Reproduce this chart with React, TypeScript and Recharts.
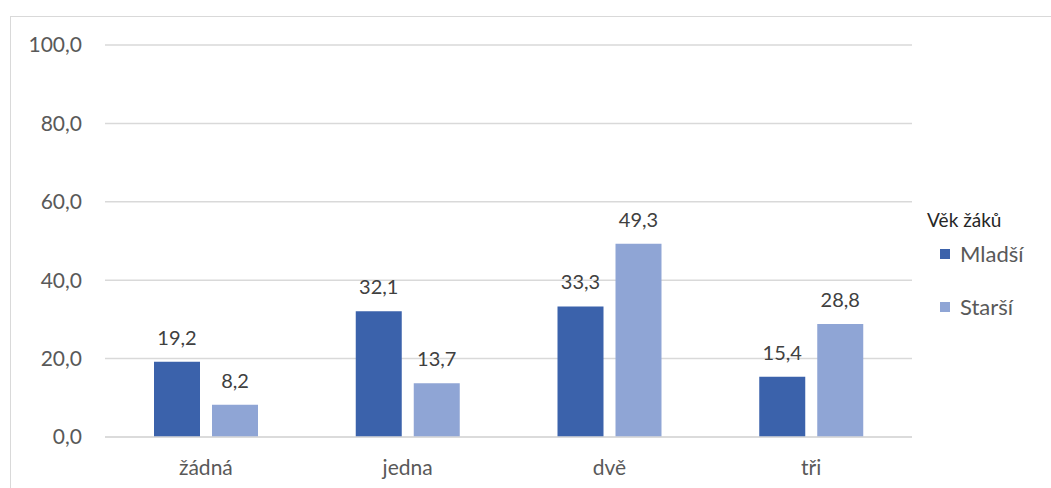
import React from "react";
import {
  BarChart,
  Bar,
  XAxis,
  YAxis,
  CartesianGrid,
  LabelList,
  Legend,
} from "recharts";

const categories = ["žádná", "jedna", "dvě", "tři"];
const mladsi = [19.2, 32.1, 33.3, 15.4];
const starsi = [8.2, 13.7, 49.3, 28.8];
const yTicks = [0, 20, 40, 60, 80, 100];
const legendTitle = "Věk žáků";

const data = categories.map((c, i) => ({
  cat: c,
  mladsi: mladsi[i],
  starsi: starsi[i],
}));

const fmt = (v: number) => v.toFixed(1).replace(".", ",");
const FONT = "Lato, 'Open Sans', sans-serif";

function LegendBox({ payload }: any) {
  return (
    <div style={{ position: "relative", fontFamily: FONT, lineHeight: "20px" }}>
      <div style={{ position: "absolute", left: 0, top: 1, fontSize: 19, color: "#262626", whiteSpace: "nowrap" }}>
        {legendTitle}
      </div>
      {(payload || []).map((p: any, i: number) => (
        <div key={p.value} style={{ position: "absolute", left: 0, top: 35 + i * 53, height: 20, width: 120 }}>
          <span
            style={{
              position: "absolute",
              left: 13,
              top: 5,
              width: 10,
              height: 10,
              background: p.color,
            }}
          />
          <span style={{ position: "absolute", left: 33, top: 0, fontSize: 22, color: "#595959", whiteSpace: "nowrap" }}>
            {p.value}
          </span>
        </div>
      ))}
    </div>
  );
}

export default function App() {
  return (
    <div style={{ position: "absolute", left: 0, top: 0, width: 1051, height: 488, overflow: "hidden", background: "#fff" }}>
      <div
        style={{
          position: "absolute",
          left: 10,
          top: 16,
          width: 1100,
          height: 520,
          border: "1px solid #D9D9D9",
        }}
      />
      <BarChart
        width={1051}
        height={488}
        data={data}
        margin={{ top: 45, right: 139, left: 0, bottom: 11 }}
        barGap={12}
        barSize={46}
        style={{ fontFamily: FONT }}
      >
        <CartesianGrid vertical={false} stroke="#D9D9D9" strokeWidth={1.5} />
        <XAxis
          dataKey="cat"
          height={40}
          axisLine={{ stroke: "#D9D9D9", strokeWidth: 1.5 }}
          tickLine={false}
          tickSize={0}
          tickMargin={23}
          tick={{ fill: "#595959", fontSize: 21 }}
        />
        <YAxis
          width={105}
          domain={[0, 100]}
          ticks={yTicks}
          tickFormatter={fmt}
          axisLine={false}
          tickLine={false}
          tickSize={0}
          tickMargin={23}
          tick={{ fill: "#595959", fontSize: 21 }}
        />
        <Legend
          layout="vertical"
          align="center"
          verticalAlign="middle"
          wrapperStyle={{ left: 927, top: 209, width: 124, height: 150 }}
          content={<LegendBox />}
        />
        <Bar dataKey="mladsi" name="Mladší" fill="#3B62AB" isAnimationActive={false}>
          <LabelList dataKey="mladsi" position="top" offset={17} formatter={(v: any) => fmt(Number(v))} fill="#404040" fontSize={20} />
        </Bar>
        <Bar dataKey="starsi" name="Starší" fill="#8FA5D5" isAnimationActive={false}>
          <LabelList dataKey="starsi" position="top" offset={17} formatter={(v: any) => fmt(Number(v))} fill="#404040" fontSize={20} />
        </Bar>
      </BarChart>
    </div>
  );
}
